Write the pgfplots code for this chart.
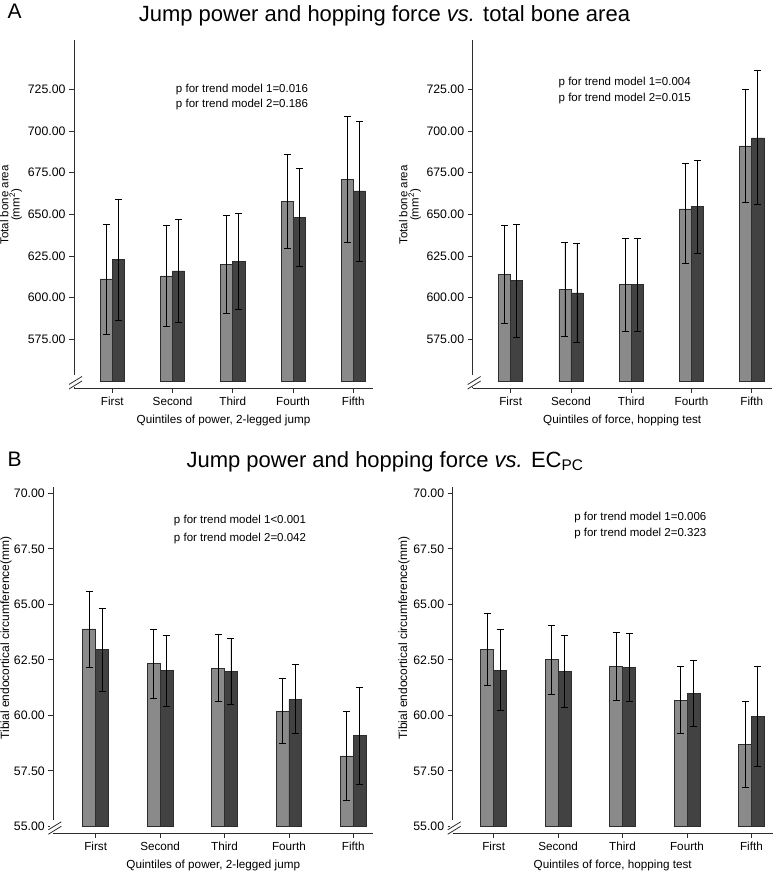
\documentclass[border=0pt]{standalone}
\usepackage{fontspec}
\setmainfont{Liberation Sans}
\usepackage{pgfplots}
\usepackage{pgfplotstable}
\pgfplotsset{compat=1.18}

% total bone area, power (left) and force (right)
\pgfplotstableread{
x l lhi llo d dhi dlo
0 611.2 644.2 578.2 622.8 659.2 586.2
1 613.0 643.4 582.6 616.0 646.8 585.0
2 620.0 649.2 590.8 621.8 650.8 593.2
3 657.8 685.8 629.6 648.2 677.8 618.6
4 671.0 708.8 633.0 664.0 705.8 622.0
}\tabTL
\pgfplotstableread{
x l lhi llo d dhi dlo
0 613.8 643.6 584.4 610.2 644.0 576.2
1 605.0 633.0 576.8 602.8 632.6 573.0
2 608.0 635.4 580.0 607.8 635.4 579.6
3 653.2 680.4 620.4 654.6 682.2 626.8
4 691.0 725.0 657.4 695.8 736.4 655.8
}\tabTR
% endocortical circumference
\pgfplotstableread{
x l lhi llo d dhi dlo
0 63.89 65.60 62.16 62.95 64.83 61.08
1 62.34 63.89 60.75 62.01 63.60 60.40
2 62.13 63.63 60.63 61.98 63.47 60.50
3 60.19 61.65 58.72 60.73 62.28 59.19
4 58.17 60.18 56.18 59.08 61.24 56.91
}\tabBL
\pgfplotstableread{
x l lhi llo d dhi dlo
0 62.97 64.61 61.33 62.04 63.87 60.23
1 62.52 64.04 60.95 61.96 63.59 60.34
2 62.22 63.75 60.68 62.14 63.68 60.63
3 60.69 62.19 59.19 60.99 62.49 59.49
4 58.69 60.63 56.76 59.95 62.19 57.70
}\tabBR

\definecolor{lightbar}{RGB}{138,138,138}
\definecolor{darkbar}{RGB}{66,66,66}
\definecolor{axisgray}{RGB}{45,45,45}

\pgfplotsset{
  panel/.style={
    scale only axis, anchor=south west, clip=false,
    axis x line*=bottom, axis y line*=left,
    axis line style={line width=0.8pt, axisgray},
    tick style={line width=0.8pt, axisgray},
    tick align=outside, major tick length=5pt,
    xtick={0,1,2,3,4}, xticklabels={First,Second,Third,Fourth,Fifth},
    x tick label style={font=\fontsize{11.7}{13}\selectfont},
    y tick label style={font=\fontsize{12.3}{14}\selectfont},
    xlabel style={font=\fontsize{11.7}{13}\selectfont, at={(axis description cs:0.5,0)}, anchor=center, yshift=-32pt},
    ybar, bar width=0.2, bar shift=0pt,
  },
  barsA/.style={draw=axisgray, line width=0.7pt,
    error bars/.cd, y dir=both, y explicit,
    error bar style={black, line width=0.8pt},
    error mark options={black, line width=0.8pt, mark size=3.5pt, rotate=90},
    /pgfplots/.cd},
}

\newcommand{\brk}[1]{%
  \fill[white] ([xshift=-3pt,yshift=0.6pt]#1) rectangle ([xshift=3pt,yshift=13pt]#1);
  \draw[line width=0.8pt, axisgray] ([xshift=-5pt,yshift=-1pt]#1) -- ([xshift=8pt,yshift=7pt]#1);
  \draw[line width=0.8pt, axisgray] ([xshift=-5pt,yshift=3.5pt]#1) -- ([xshift=8pt,yshift=11.5pt]#1);
}

\begin{document}
\begin{tikzpicture}[x=1pt,y=1pt]
\path[use as bounding box] (0,0) rectangle (777,874);

% ---- titles
\node[anchor=base west, font=\fontsize{21}{24}\selectfont] at (4,855) {A};
\node[anchor=base, font=\fontsize{22}{26}\selectfont] at (384.4,852.3) {Jump power and hopping force \textit{vs.} total bone area};
\node[anchor=base west, font=\fontsize{21}{24}\selectfont] at (4,407.3) {B};
\node[anchor=base, font=\fontsize{22}{26}\selectfont] at (385,406.7) {Jump power and hopping force \textit{vs.} EC\textsubscript{PC}};

% ---- top left
\begin{axis}[panel, at={(74pt,486pt)}, width=299pt, height=348pt,
  xmin=-0.636, xmax=4.327, ymin=-4.2, ymax=204.6,
  ytick={25,50,75,100,125,150,175},
  yticklabels={575.00,600.00,625.00,650.00,675.00,700.00,725.00},
  xlabel={Quintiles of power, 2-legged jump}]
\addplot[fill=lightbar, barsA] table[x expr=\thisrow{x}-0.1, y expr=\thisrow{l}-550,
  y error plus expr=\thisrow{lhi}-\thisrow{l}, y error minus expr=\thisrow{l}-\thisrow{llo}] {\tabTL};
\addplot[fill=darkbar, barsA] table[x expr=\thisrow{x}+0.1, y expr=\thisrow{d}-550,
  y error plus expr=\thisrow{dhi}-\thisrow{d}, y error minus expr=\thisrow{d}-\thisrow{dlo}] {\tabTL};
\coordinate (tl0) at (rel axis cs:0,0);
\end{axis}
\brk{tl0}

% ---- top right
\begin{axis}[panel, at={(472.7pt,486pt)}, width=299pt, height=348pt,
  xmin=-0.63, xmax=4.33, ymin=-4.2, ymax=204.6,
  ytick={25,50,75,100,125,150,175},
  yticklabels={575.00,600.00,625.00,650.00,675.00,700.00,725.00},
  xlabel={Quintiles of force, hopping test}]
\addplot[fill=lightbar, barsA] table[x expr=\thisrow{x}-0.1, y expr=\thisrow{l}-550,
  y error plus expr=\thisrow{lhi}-\thisrow{l}, y error minus expr=\thisrow{l}-\thisrow{llo}] {\tabTR};
\addplot[fill=darkbar, barsA] table[x expr=\thisrow{x}+0.1, y expr=\thisrow{d}-550,
  y error plus expr=\thisrow{dhi}-\thisrow{d}, y error minus expr=\thisrow{d}-\thisrow{dlo}] {\tabTR};
\coordinate (tr0) at (rel axis cs:0,0);
\end{axis}
\brk{tr0}

% ---- bottom left
\begin{axis}[panel, at={(53.3pt,40.7pt)}, width=320pt, height=346.6pt,
  xmin=-0.658, xmax=4.31, ymin=-0.315, ymax=15.3,
  ytick={0,2.5,5,7.5,10,12.5,15},
  yticklabels={55.00,57.50,60.00,62.50,65.00,67.50,70.00},
  xlabel={Quintiles of power, 2-legged jump}]
\addplot[fill=lightbar, barsA] table[x expr=\thisrow{x}-0.1, y expr=\thisrow{l}-55,
  y error plus expr=\thisrow{lhi}-\thisrow{l}, y error minus expr=\thisrow{l}-\thisrow{llo}] {\tabBL};
\addplot[fill=darkbar, barsA] table[x expr=\thisrow{x}+0.1, y expr=\thisrow{d}-55,
  y error plus expr=\thisrow{dhi}-\thisrow{d}, y error minus expr=\thisrow{d}-\thisrow{dlo}] {\tabBL};
\coordinate (bl0) at (rel axis cs:0,0);
\end{axis}
\brk{bl0}

% ---- bottom right
\begin{axis}[panel, at={(452.7pt,40.7pt)}, width=320pt, height=346.6pt,
  xmin=-0.636, xmax=4.33, ymin=-0.315, ymax=15.3,
  ytick={0,2.5,5,7.5,10,12.5,15},
  yticklabels={55.00,57.50,60.00,62.50,65.00,67.50,70.00},
  xlabel={Quintiles of force, hopping test}]
\addplot[fill=lightbar, barsA] table[x expr=\thisrow{x}-0.1, y expr=\thisrow{l}-55,
  y error plus expr=\thisrow{lhi}-\thisrow{l}, y error minus expr=\thisrow{l}-\thisrow{llo}] {\tabBR};
\addplot[fill=darkbar, barsA] table[x expr=\thisrow{x}+0.1, y expr=\thisrow{d}-55,
  y error plus expr=\thisrow{dhi}-\thisrow{d}, y error minus expr=\thisrow{d}-\thisrow{dlo}] {\tabBR};
\coordinate (br0) at (rel axis cs:0,0);
\end{axis}
\brk{br0}

% ---- y labels
\node[rotate=90, align=center, font=\fontsize{11.5}{9.5}\selectfont] at (11,669) {Total bone area\\(mm\textsuperscript{2})};
\node[rotate=90, align=center, font=\fontsize{11.5}{9.5}\selectfont] at (410,669) {Total bone area\\(mm\textsuperscript{2})};
\node[rotate=90, font=\fontsize{12}{14}\selectfont] at (6,236) {Tibial endocortical circumference(mm)};
\node[rotate=90, font=\fontsize{12}{14}\selectfont] at (404,236) {Tibial endocortical circumference(mm)};

% ---- p for trend annotations
\begin{scope}[every node/.style={font=\fontsize{11.5}{13}\selectfont}]
\node at (242,784.7) {p for trend model 1=0.016};
\node at (242,769.7) {p for trend model 2=0.186};
\node at (624.7,791.3) {p for trend model 1=0.004};
\node at (624.7,775) {p for trend model 2=0.015};
\node at (240,353.3) {p for trend model 1<0.001};
\node at (240,335.7) {p for trend model 2=0.042};
\node at (640.3,356.7) {p for trend model 1=0.006};
\node at (640.3,340.3) {p for trend model 2=0.323};
\end{scope}
\end{tikzpicture}
\end{document}
